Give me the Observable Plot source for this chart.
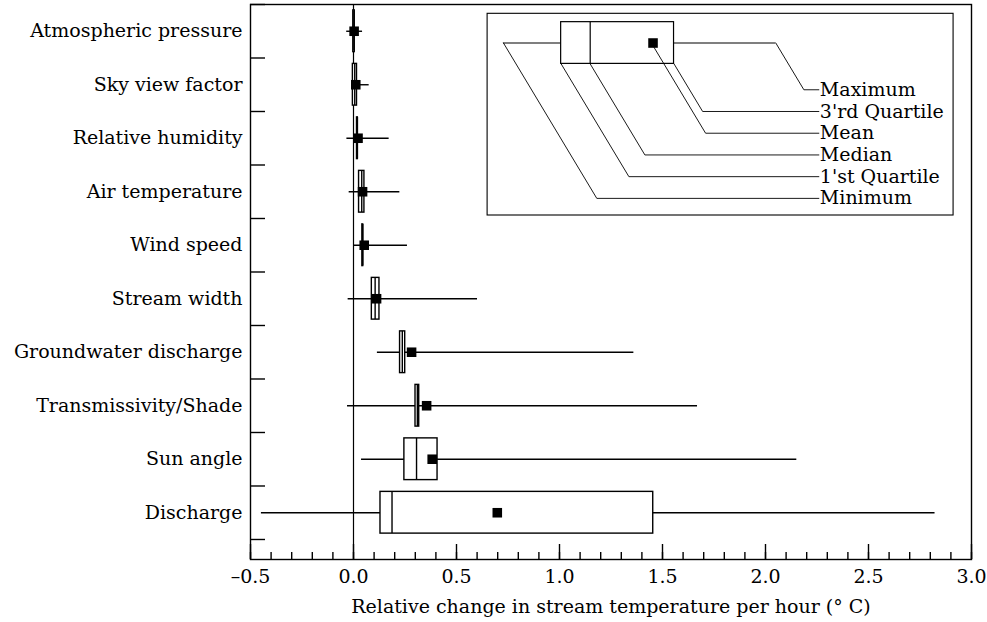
<!DOCTYPE html>
<html>
<head>
<meta charset="utf-8">
<script src="https://cdn.jsdelivr.net/npm/d3@7"></script>
<script src="https://cdn.jsdelivr.net/npm/@observablehq/plot@0.6"></script>
<style>
  body { margin: 0; background: #fff; }
  #chart svg { display: block; }
</style>
</head>
<body>
<div id="chart"></div>
<script>
// ---- data ----
const categories = ["Atmospheric pressure", "Sky view factor", "Relative humidity", "Air temperature", "Wind speed",
  "Stream width", "Groundwater discharge", "Transmissivity/Shade", "Sun angle", "Discharge"];
const minimum = [-0.033, -0.003, -0.032, -0.021, 0.000, -0.026, 0.116, -0.029, 0.039, -0.447];
const q1      = [-0.001, -0.003,  0.017,  0.027, 0.043,  0.089, 0.226,  0.301, 0.247,  0.131];
const median  = [ 0.002,  0.006,  0.019,  0.040, 0.045,  0.105, 0.237,  0.310, 0.306,  0.187];
const mean    = [ 0.003,  0.011,  0.022,  0.044, 0.052,  0.112, 0.282,  0.355, 0.382,  0.698];
const q3      = [ 0.006,  0.017,  0.021,  0.053, 0.047,  0.126, 0.251,  0.319, 0.408,  1.455];
const maximum = [ 0.044,  0.076,  0.173,  0.225, 0.262,  0.602, 1.361,  1.670, 2.152,  2.823];

const xTicks = [-0.5, 0.0, 0.5, 1.0, 1.5, 2.0, 2.5, 3.0];
const xMinorTicks = [-0.5, -0.4, -0.3, -0.2, -0.1, 0.0, 0.1, 0.2, 0.3, 0.4, 0.5, 0.6, 0.7, 0.8, 0.9, 1.0,
  1.1, 1.2, 1.3, 1.4, 1.5, 1.6, 1.7, 1.8, 1.9, 2.0, 2.1, 2.2, 2.3, 2.4, 2.5, 2.6, 2.7, 2.8, 2.9, 3.0];
const xLabel = "Relative change in stream temperature per hour (\u00B0 C)";

// legend schematic: labels and example statistics
const legendLabels = ["Maximum", "3'rd Quartile", "Mean", "Median", "1'st Quartile", "Minimum"];
const legendStats  = ["max", "q3", "mean", "median", "q1", "min"];
const legendExample = {min: 0.728, q1: 1.008, median: 1.149, mean: 1.454, q3: 1.556, max: 2.05};

// ---- layout (not data) ----
const halfBox = 0.39;          // half box height, in row units
const lw = 1.4;
const legendRow = 1.22;
const legendFrame = {x1: 0.651, x2: 2.913, y1: 0.674, y2: 4.444};
const legendLabelX = 2.259;
const legendLabelY0 = 2.094, legendLabelStep = 0.406;
const leaderSlope = 0.156;

// ---- build tables ----
const rows = categories.map((c, i) => ({
  category: c, pos: i + 1,
  min: minimum[i], q1: q1[i], median: median[i], mean: mean[i], q3: q3[i], max: maximum[i]
}));
const boundaries = d3.range(0, categories.length + 1).map(i => i + 0.5);

const lg = legendExample;
const leaderStart = {
  max: [lg.max, legendRow],
  q3: [lg.q3, legendRow + halfBox],
  mean: [lg.mean, legendRow + 0.05],
  median: [lg.median, legendRow + halfBox],
  q1: [lg.q1, legendRow + halfBox],
  min: [lg.min, legendRow]
};
const leaders = [];
const legendText = [];
legendStats.forEach((s, i) => {
  const ly = legendLabelY0 + i * legendLabelStep;
  const [sx, sy] = leaderStart[s];
  const ex = sx + leaderSlope * (ly - sy);
  leaders.push({k: s, x: sx, y: sy}, {k: s, x: ex, y: ly}, {k: s, x: legendLabelX, y: ly});
  legendText.push({label: legendLabels[i], x: legendLabelX, y: ly});
});

const fmt = d => (d < 0 ? "\u2013" : "") + Math.abs(d).toFixed(1);

const chart = Plot.plot({
  width: 987,
  height: 622,
  marginLeft: 250,
  marginRight: 16,
  marginTop: 4,
  marginBottom: 63,
  style: {fontFamily: "'DejaVu Serif', serif", fontSize: "19px", background: "white", color: "black"},
  x: {domain: [-0.5, 3.0]},
  y: {domain: [0.5, 10.874], reverse: true},
  marks: [
    Plot.ruleX([0], {stroke: "black", strokeWidth: 1.2}),
    // whiskers
    Plot.ruleY(rows, {y: "pos", x1: "min", x2: "max", stroke: "black", strokeWidth: lw}),
    // boxes
    Plot.rect(rows, {x1: "q1", x2: "q3", y1: d => d.pos - halfBox, y2: d => d.pos + halfBox,
      fill: "white", stroke: "black", strokeWidth: lw}),
    // medians
    Plot.ruleX(rows, {x: "median", y1: d => d.pos - halfBox, y2: d => d.pos + halfBox, stroke: "black", strokeWidth: lw}),
    // means
    Plot.dot(rows, {x: "mean", y: "pos", symbol: "square", r: 5.4, fill: "black", stroke: "none"}),

    // axes
    Plot.axisY(boundaries, {tickSize: -15, tickFormat: () => "", label: null, strokeWidth: lw}),
    Plot.axisY(rows.map(d => d.pos), {tickSize: 0, tickPadding: 8, tickFormat: d => categories[d - 1], label: null}),
    Plot.axisX(xMinorTicks, {tickSize: -7, tickFormat: () => "", label: null, strokeWidth: lw}),
    Plot.axisX(xTicks, {tickSize: -15, tickFormat: () => "", label: null, strokeWidth: lw}),
    Plot.axisX(xTicks, {tickSize: 0, tickPadding: 10, tickFormat: fmt, label: null}),
    Plot.text([xLabel], {frameAnchor: "bottom", dy: 47, lineAnchor: "middle", text: d => d, fill: "black"}),
    Plot.frame({stroke: "black", strokeWidth: lw}),

    // legend inset
    Plot.rect([legendFrame], {x1: "x1", x2: "x2", y1: "y1", y2: "y2", fill: "white", stroke: "black", strokeWidth: 1.1}),
    Plot.ruleY([lg], {y: legendRow, x1: "min", x2: "max", stroke: "black", strokeWidth: 1.2}),
    Plot.rect([lg], {x1: "q1", x2: "q3", y1: legendRow - halfBox, y2: legendRow + halfBox, fill: "white", stroke: "black", strokeWidth: 1.2}),
    Plot.ruleX([lg], {x: "median", y1: legendRow - halfBox, y2: legendRow + halfBox, stroke: "black", strokeWidth: 1.2}),
    Plot.dot([lg], {x: "mean", y: legendRow, symbol: "square", r: 5.4, fill: "black", stroke: "none"}),
    Plot.line(leaders, {x: "x", y: "y", z: "k", stroke: "black", strokeWidth: 0.9, curve: "linear"}),
    Plot.text(legendText, {x: "x", y: "y", text: "label", textAnchor: "start", dx: 1, lineAnchor: "middle", fill: "black"})
  ]
});
document.getElementById("chart").appendChild(chart);
</script>
</body>
</html>
